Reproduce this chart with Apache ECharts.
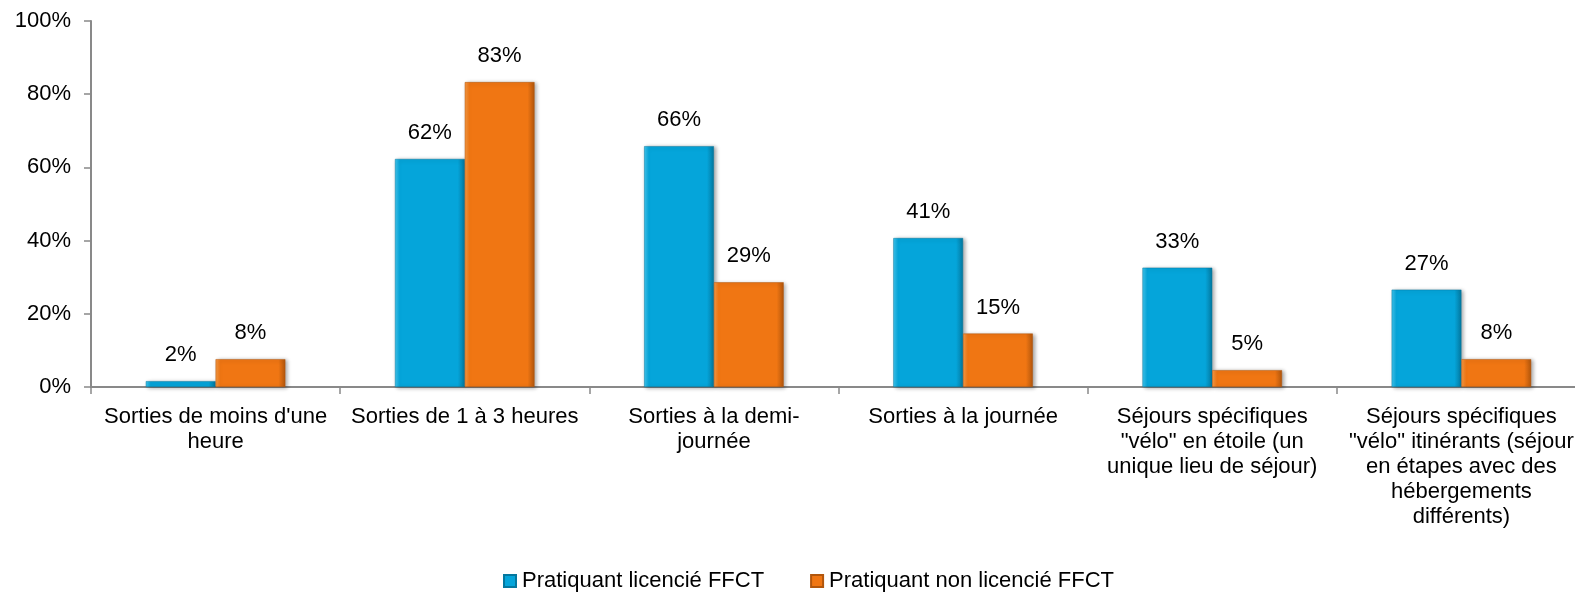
<!DOCTYPE html>
<html>
<head>
<meta charset="utf-8">
<script src="https://cdn.jsdelivr.net/npm/echarts@6/dist/echarts.min.js"></script>
<style>
  html, body { margin: 0; padding: 0; background: #fff; }
  #chart { width: 1575px; height: 595px; }
</style>
</head>
<body>
<div id="chart"></div>
<script>
const categories = [
    "Sorties de moins d'une\nheure",
    "Sorties de 1 à 3 heures",
    "Sorties à la demi-\njournée",
    "Sorties à la journée",
    "Séjours spécifiques\n\"vélo\" en étoile (un\nunique lieu de séjour)",
    "Séjours spécifiques\n\"vélo\" itinérants (séjour\nen étapes avec des\nhébergements\ndifférents)"
];
const seriesNames = ["Pratiquant licencié FFCT", "Pratiquant non licencié FFCT"];
const licencie = [1.6, 62.3, 65.8, 40.7, 32.6, 26.6];
const nonLicencie = [7.6, 83.3, 28.6, 14.6, 4.6, 7.6];
const yTicks = [0, 20, 40, 60, 80, 100];

const font = "'Liberation Sans', Arial, sans-serif";

// dégradé horizontal pour imiter le biseau
function bevel(light, main, dark) {
    return new echarts.graphic.LinearGradient(0, 0, 1, 0, [
        { offset: 0, color: light },
        { offset: 0.07, color: main },
        { offset: 0.9, color: main },
        { offset: 1, color: dark }
    ]);
}

function barSeries(name, data, light, main, dark) {
    return {
        name: name,
        type: 'bar',
        data: data,
        barGap: '0%',
        barCategoryGap: '44%',
        itemStyle: {
            color: bevel(light, main, dark),
            borderColor: dark,
            borderWidth: 0.5,
            shadowColor: 'rgba(0,0,0,0.35)',
            shadowBlur: 4,
            shadowOffsetX: 2,
            shadowOffsetY: 1
        },
        label: {
            show: true,
            position: 'top',
            distance: 15,
            fontFamily: font,
            fontSize: 22,
            color: '#000',
            formatter: p => Math.round(p.value) + '%'
        }
    };
}

const chart = echarts.init(document.getElementById('chart'));
chart.setOption({
    animation: false,
    grid: { left: 91, width: 1495, top: 21, bottom: 208, outerBoundsMode: 'none' },
    legend: {
        top: 565,
        left: 498,
        itemWidth: 12,
        itemHeight: 12,
        itemGap: 46,
        icon: 'rect',
        textStyle: { fontFamily: font, fontSize: 22, color: '#000', padding: [0, 0, 0, 1] },
        data: seriesNames
    },
    xAxis: {
        type: 'category',
        data: categories,
        axisLine: { lineStyle: { color: '#898989', width: 2 } },
        axisTick: { show: true, length: 7, lineStyle: { color: '#898989', width: 1.5 } },
        axisLabel: {
            interval: 0,
            margin: 17,
            fontFamily: font,
            fontSize: 22,
            lineHeight: 25,
            color: '#000'
        }
    },
    yAxis: {
        type: 'value',
        min: yTicks[0],
        max: yTicks[yTicks.length - 1],
        interval: 20,
        splitLine: { show: false },
        axisLine: { show: true, lineStyle: { color: '#898989', width: 2 } },
        axisTick: { show: true, length: 7, lineStyle: { color: '#898989', width: 1.5 } },
        axisLabel: {
            margin: 20,
            fontFamily: font,
            fontSize: 22,
            color: '#000',
            formatter: '{value}%'
        }
    },
    series: [
        barSeries(seriesNames[0], licencie, '#3fc6ef', '#05a5da', '#04789f'),
        barSeries(seriesNames[1], nonLicencie, '#f79a45', '#f07613', '#b2560c')
    ]
});
</script>
</body>
</html>
